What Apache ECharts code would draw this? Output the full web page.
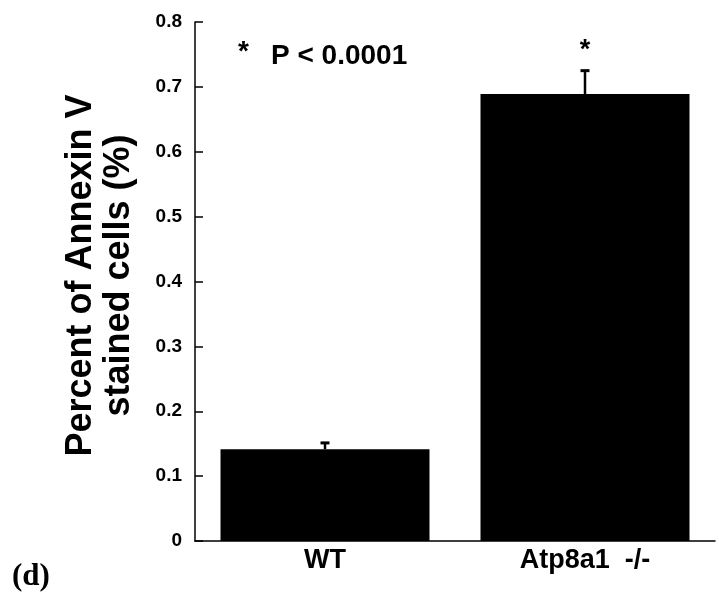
<!DOCTYPE html>
<html>
<head>
<meta charset="utf-8">
<script src="https://cdn.jsdelivr.net/npm/echarts@6/dist/echarts.min.js"></script>
<style>
  html, body { margin: 0; padding: 0; background: #fff; }
  #chart { width: 719px; height: 597px; }
</style>
</head>
<body>
<div id="chart"></div>
<script>
// data
var categories = ['WT', 'Atp8a1  -/-']
var means = [0.1415, 0.689]
var errors = [0.0097, 0.036]
var stars = ['', '*']
var yTicks = [0, 0.1, 0.2, 0.3, 0.4, 0.5, 0.6, 0.7, 0.8]
var yTitle = 'Percent of Annexin V\nstained cells (%)'
var pNote = 'P < 0.0001'
var panel = '(d)'

var FONT = '"Liberation Sans", Arial, Helvetica, sans-serif'

var chart = echarts.init(document.getElementById('chart'))

chart.setOption({
  animation: false,
  backgroundColor: '#fff',
  grid: {
    left: 195,
    right: 4,
    top: 22,
    bottom: 56
  },
  xAxis: {
    type: 'category',
    data: categories,
    axisLine: { lineStyle: { color: '#000', width: 1.5 } },
    axisTick: {
      inside: true,
      length: 9,
      lineStyle: { color: '#000', width: 1.5 }
    },
    axisLabel: {
      color: '#000',
      fontFamily: FONT,
      fontWeight: 'bold',
      fontSize: 27,
      margin: 6
    }
  },
  yAxis: {
    type: 'value',
    min: yTicks[0],
    max: yTicks[yTicks.length - 1],
    interval: yTicks[1] - yTicks[0],
    splitLine: { show: false },
    axisLine: { show: true, lineStyle: { color: '#000', width: 1.5 } },
    axisTick: {
      show: true,
      inside: true,
      length: 8,
      lineStyle: { color: '#000', width: 1.5 }
    },
    axisLabel: {
      color: '#000',
      fontFamily: FONT,
      fontWeight: 'bold',
      fontSize: 19,
      margin: 13,
      formatter: function (v) {
        return v === 0 ? '0' : v.toFixed(1)
      }
    },
    name: yTitle,
    nameLocation: 'middle',
    nameRotate: 90,
    nameGap: 57,
    nameTextStyle: {
      color: '#000',
      fontFamily: FONT,
      fontWeight: 'bold',
      fontSize: 36,
      lineHeight: 38,
      padding: [0, 0, 0, 12]
    }
  },
  series: [
    {
      type: 'bar',
      data: means,
      barWidth: 209,
      itemStyle: { color: '#000' }
    },
    {
      type: 'custom',
      data: categories.map(function (c, i) { return [i, means[i], errors[i]] }),
      z: 5,
      renderItem: function (params, api) {
        var base = api.coord([api.value(0), api.value(1)])
        var top = api.coord([api.value(0), api.value(1) + api.value(2)])
        var cap = 4.5
        var style = { stroke: '#000', lineWidth: 2.5 }
        var children = [
          { type: 'line', shape: { x1: base[0], y1: base[1], x2: top[0], y2: top[1] }, style: style },
          { type: 'line', shape: { x1: top[0] - cap, y1: top[1], x2: top[0] + cap, y2: top[1] }, style: { stroke: '#000', lineWidth: 3 } }
        ]
        var s = stars[params.dataIndex]
        if (s) {
          children.push({
            type: 'text',
            style: {
              text: s,
              x: top[0],
              y: top[1] - 20,
              align: 'center',
              verticalAlign: 'middle',
              fill: '#000',
              font: 'bold 27px ' + FONT
            }
          })
        }
        return { type: 'group', children: children }
      }
    }
  ],
  graphic: [
    {
      type: 'text',
      left: 238,
      top: 38,
      style: { text: '*', fill: '#000', font: 'bold 28px ' + FONT }
    },
    {
      type: 'text',
      left: 271,
      top: 42,
      style: { text: pNote, fill: '#000', font: 'bold 28px ' + FONT }
    },
    {
      type: 'text',
      left: 12,
      top: 561,
      style: { text: panel, fill: '#000', font: 'bold 31px "Liberation Serif", "Times New Roman", serif' }
    }
  ]
})
</script>
</body>
</html>
